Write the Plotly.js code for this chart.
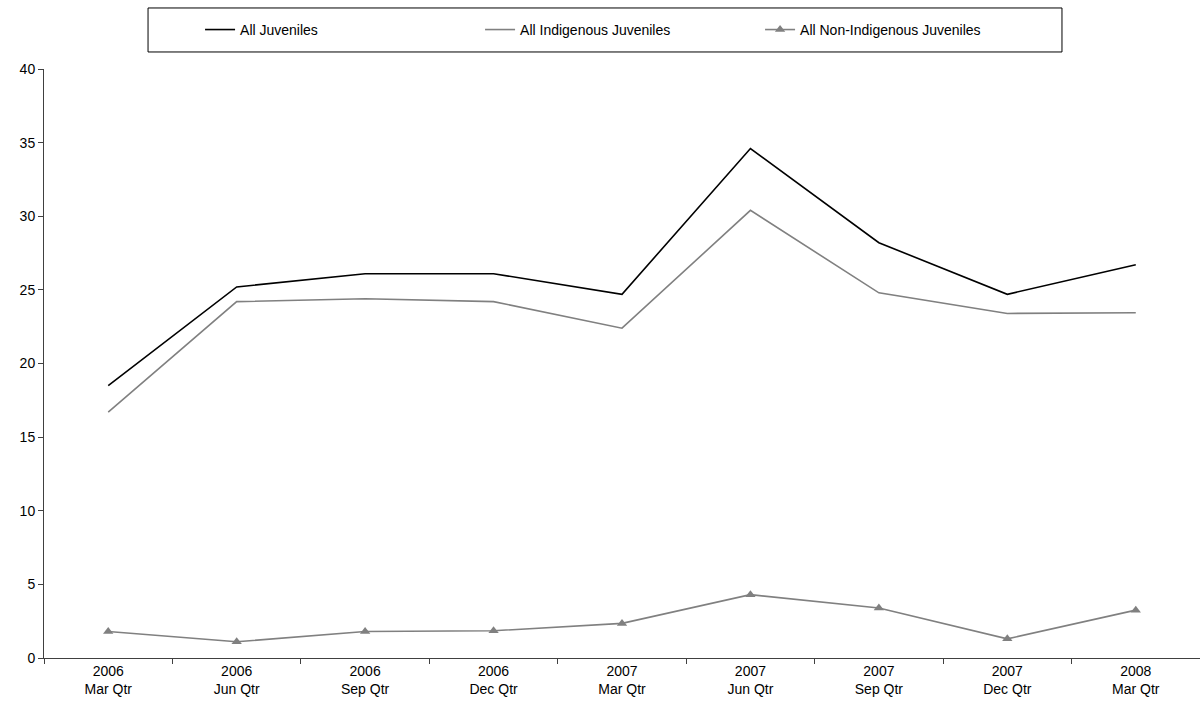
<!DOCTYPE html>
<html>
<head>
<meta charset="utf-8">
<script src="https://cdn.plot.ly/plotly-3.0.1.min.js"></script>
<style>html,body{margin:0;padding:0;background:#fff}#chart{width:1200px;height:711px}</style>
</head>
<body>
<div id="chart"></div>
<script>
var categories = ["2006<br>Mar Qtr","2006<br>Jun Qtr","2006<br>Sep Qtr","2006<br>Dec Qtr","2007<br>Mar Qtr","2007<br>Jun Qtr","2007<br>Sep Qtr","2007<br>Dec Qtr","2008<br>Mar Qtr"];
var allJuveniles = [18.5, 25.2, 26.1, 26.1, 24.7, 34.6, 28.2, 24.7, 26.7];
var indigenousJuveniles = [16.7, 24.2, 24.4, 24.2, 22.4, 30.4, 24.8, 23.4, 23.45];
var nonIndigenousJuveniles = [1.8, 1.1, 1.8, 1.85, 2.35, 4.3, 3.4, 1.3, 3.25];
var yTicks = [0, 5, 10, 15, 20, 25, 30, 35, 40];

var traces = [
  {x: categories, y: allJuveniles, name: "All Juveniles", type: "scatter", mode: "lines",
   line: {color: "#000000", width: 1.6}},
  {x: categories, y: indigenousJuveniles, name: "All Indigenous Juveniles", type: "scatter", mode: "lines",
   line: {color: "#808080", width: 1.6}},
  {x: categories, y: nonIndigenousJuveniles, name: "All Non-Indigenous Juveniles", type: "scatter", mode: "lines+markers",
   line: {color: "#808080", width: 1.6}, marker: {symbol: "triangle-up", size: 9, color: "#808080"}}
];

var layout = {
  width: 1200, height: 711,
  margin: {l: 44, r: 0, t: 69, b: 53},
  paper_bgcolor: "#ffffff", plot_bgcolor: "#ffffff",
  font: {family: "Liberation Sans, Arial, sans-serif", size: 13, color: "#000"},
  showlegend: true,
  legend: {
    orientation: "h", x: 0.135, y: 1.0663, xanchor: "left", yanchor: "middle",
    borderwidth: 0, bgcolor: "rgba(0,0,0,0)",
    entrywidth: 235, entrywidthmode: "pixels",
    font: {size: 14}, itemwidth: 30
  },
  shapes: [
    {type: "rect", xref: "paper", yref: "paper", x0: 0.09, x1: 0.8806, y0: 1.0289, y1: 1.1036,
     line: {color: "#000", width: 1}, fillcolor: "rgba(0,0,0,0)", layer: "below"}
  ],
  xaxis: {
    type: "category", range: [-0.5, 8.5], showgrid: false, zeroline: false,
    showline: true, linecolor: "#404040", linewidth: 1,
    ticks: "outside", tickson: "boundaries", ticklen: 5, tickcolor: "#404040",
    tickfont: {size: 14}, fixedrange: true
  },
  yaxis: {
    range: [0, 40], tickvals: yTicks, showgrid: false, zeroline: false,
    showline: true, linecolor: "#404040", linewidth: 1,
    ticks: "outside", ticklen: 5, tickcolor: "#404040",
    tickfont: {size: 14}, fixedrange: true
  }
};

Plotly.newPlot("chart", traces, layout, {displayModeBar: false, staticPlot: true});
</script>
</body>
</html>
